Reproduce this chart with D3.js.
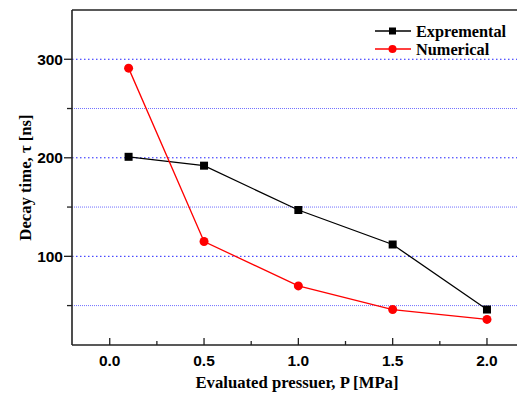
<!DOCTYPE html>
<html>
<head>
<meta charset="utf-8">
<script src="https://cdn.jsdelivr.net/npm/d3@7"></script>
<style>
  html, body { margin: 0; padding: 0; background: #fff; overflow: hidden; }
  .tick-label { font-family: "Liberation Sans", Arial, sans-serif; font-weight: bold; font-size: 15.5px; }
  .title { font-family: "Liberation Serif", "Times New Roman", serif; font-weight: bold; font-size: 16.7px; }
  .leg-text { font-family: "Liberation Serif", "Times New Roman", serif; font-weight: bold; font-size: 16.3px; }
</style>
</head>
<body>
<div id="viz"></div>
<script>
// data
var pressure = [0.1, 0.5, 1.0, 1.5, 2.0];
var experimental = [201, 192, 147, 112, 46];
var numerical = [291, 115, 70, 46, 36];
var xTicks = [0.0, 0.5, 1.0, 1.5, 2.0];
var xMinor = [0.25, 0.75, 1.25, 1.75];
var yTicks = [100, 200, 300];
var yMinor = [50, 150, 250];

var width = 517, height = 399;
var plotLeft = 72, plotTop = 10, plotBottom = 345;

var x = d3.scaleLinear().domain([-0.2, 2.2]).range([plotLeft, 110 + 2.2 * 188.5]);
var y = d3.scaleLinear().domain([10, 350]).range([plotBottom, plotTop]);

var svg = d3.select("#viz").append("svg")
  .attr("width", width).attr("height", height);

// grid lines
svg.selectAll("line.gmaj").data(yTicks).enter().append("line")
  .attr("x1", plotLeft).attr("x2", width)
  .attr("y1", function(d) { return y(d); }).attr("y2", function(d) { return y(d); })
  .attr("stroke", "#2020ff").attr("stroke-width", 1).attr("stroke-dasharray", "1.5,2.5");
svg.selectAll("line.gmin").data(yMinor).enter().append("line")
  .attr("x1", plotLeft).attr("x2", width)
  .attr("y1", function(d) { return y(d); }).attr("y2", function(d) { return y(d); })
  .attr("stroke", "#7070ff").attr("stroke-width", 1).attr("stroke-dasharray", "1,1");

// frame
svg.append("line").attr("x1", plotLeft).attr("x2", width).attr("y1", plotTop).attr("y2", plotTop)
  .attr("stroke", "#222").attr("stroke-width", 1.6);

// x axis (ticks inward)
var xAxis = svg.append("g").attr("transform", "translate(0," + plotBottom + ")");
xAxis.append("line").attr("x1", plotLeft).attr("x2", width).attr("stroke", "#222").attr("stroke-width", 1.6);
xAxis.selectAll("line.maj").data(xTicks).enter().append("line")
  .attr("x1", function(d) { return x(d); }).attr("x2", function(d) { return x(d); })
  .attr("y1", 0).attr("y2", -7).attr("stroke", "#222").attr("stroke-width", 1.3);
xAxis.selectAll("line.min").data(xMinor).enter().append("line")
  .attr("x1", function(d) { return x(d); }).attr("x2", function(d) { return x(d); })
  .attr("y1", 0).attr("y2", -4).attr("stroke", "#222").attr("stroke-width", 1.3);
xAxis.selectAll("text").data(xTicks).enter().append("text")
  .attr("class", "tick-label")
  .attr("x", function(d) { return x(d); }).attr("y", 21)
  .attr("text-anchor", "middle")
  .text(function(d) { return d3.format(".1f")(d); });

// y axis (ticks outward)
var yAxis = svg.append("g").attr("transform", "translate(" + plotLeft + ",0)");
yAxis.append("line").attr("y1", plotTop).attr("y2", plotBottom).attr("stroke", "#222").attr("stroke-width", 1.6);
yAxis.selectAll("line.maj").data(yTicks).enter().append("line")
  .attr("y1", function(d) { return y(d); }).attr("y2", function(d) { return y(d); })
  .attr("x1", 0).attr("x2", -8).attr("stroke", "#222").attr("stroke-width", 1.3);
yAxis.selectAll("line.min").data(yMinor).enter().append("line")
  .attr("y1", function(d) { return y(d); }).attr("y2", function(d) { return y(d); })
  .attr("x1", 0).attr("x2", -5).attr("stroke", "#222").attr("stroke-width", 1.3);
yAxis.selectAll("text").data(yTicks).enter().append("text")
  .attr("class", "tick-label")
  .attr("x", -9).attr("y", function(d) { return y(d) + 5.5; })
  .attr("text-anchor", "end")
  .text(function(d) { return d; });

// axis titles
svg.append("text").attr("class", "title")
  .attr("x", 297).attr("y", 388).attr("text-anchor", "middle")
  .text("Evaluated pressuer, P [MPa]");
svg.append("text").attr("class", "title")
  .attr("transform", "translate(31," + ((plotTop + plotBottom) / 2) + ") rotate(-90)")
  .attr("text-anchor", "middle")
  .text("Decay time, \u03c4 [ns]");

var line = d3.line()
  .x(function(d) { return x(d[0]); })
  .y(function(d) { return y(d[1]); });

var expPts = pressure.map(function(p, i) { return [p, experimental[i]]; });
var numPts = pressure.map(function(p, i) { return [p, numerical[i]]; });

svg.append("path").datum(expPts).attr("d", line)
  .attr("fill", "none").attr("stroke", "#000").attr("stroke-width", 1.3);
svg.append("path").datum(numPts).attr("d", line)
  .attr("fill", "none").attr("stroke", "#ff0000").attr("stroke-width", 1.3);

svg.selectAll("rect.exp").data(expPts).enter().append("rect")
  .attr("x", function(d) { return x(d[0]) - 4; })
  .attr("y", function(d) { return y(d[1]) - 4; })
  .attr("width", 8).attr("height", 8).attr("fill", "#000");
svg.selectAll("circle.num").data(numPts).enter().append("circle")
  .attr("cx", function(d) { return x(d[0]); })
  .attr("cy", function(d) { return y(d[1]); })
  .attr("r", 4.5).attr("fill", "#ff0000");

// legend
var legend = [
  { name: "Expremental", color: "#000", shape: "square", y: 31 },
  { name: "Numerical", color: "#ff0000", shape: "circle", y: 49 }
];
var lg = svg.selectAll("g.leg").data(legend).enter().append("g")
  .attr("transform", function(d) { return "translate(0," + d.y + ")"; });
lg.append("line").attr("x1", 375).attr("x2", 411)
  .attr("stroke", function(d) { return d.color; }).attr("stroke-width", 1.3);
lg.each(function(d) {
  var g = d3.select(this);
  if (d.shape == "square") {
    g.append("rect").attr("x", 389).attr("y", -3.5).attr("width", 7).attr("height", 7).attr("fill", d.color);
  } else {
    g.append("circle").attr("cx", 392.5).attr("cy", 0).attr("r", 4).attr("fill", d.color);
  }
});
lg.append("text").attr("class", "leg-text")
  .attr("x", 416).attr("y", 5.5)
  .text(function(d) { return d.name; });
</script>
</body>
</html>
